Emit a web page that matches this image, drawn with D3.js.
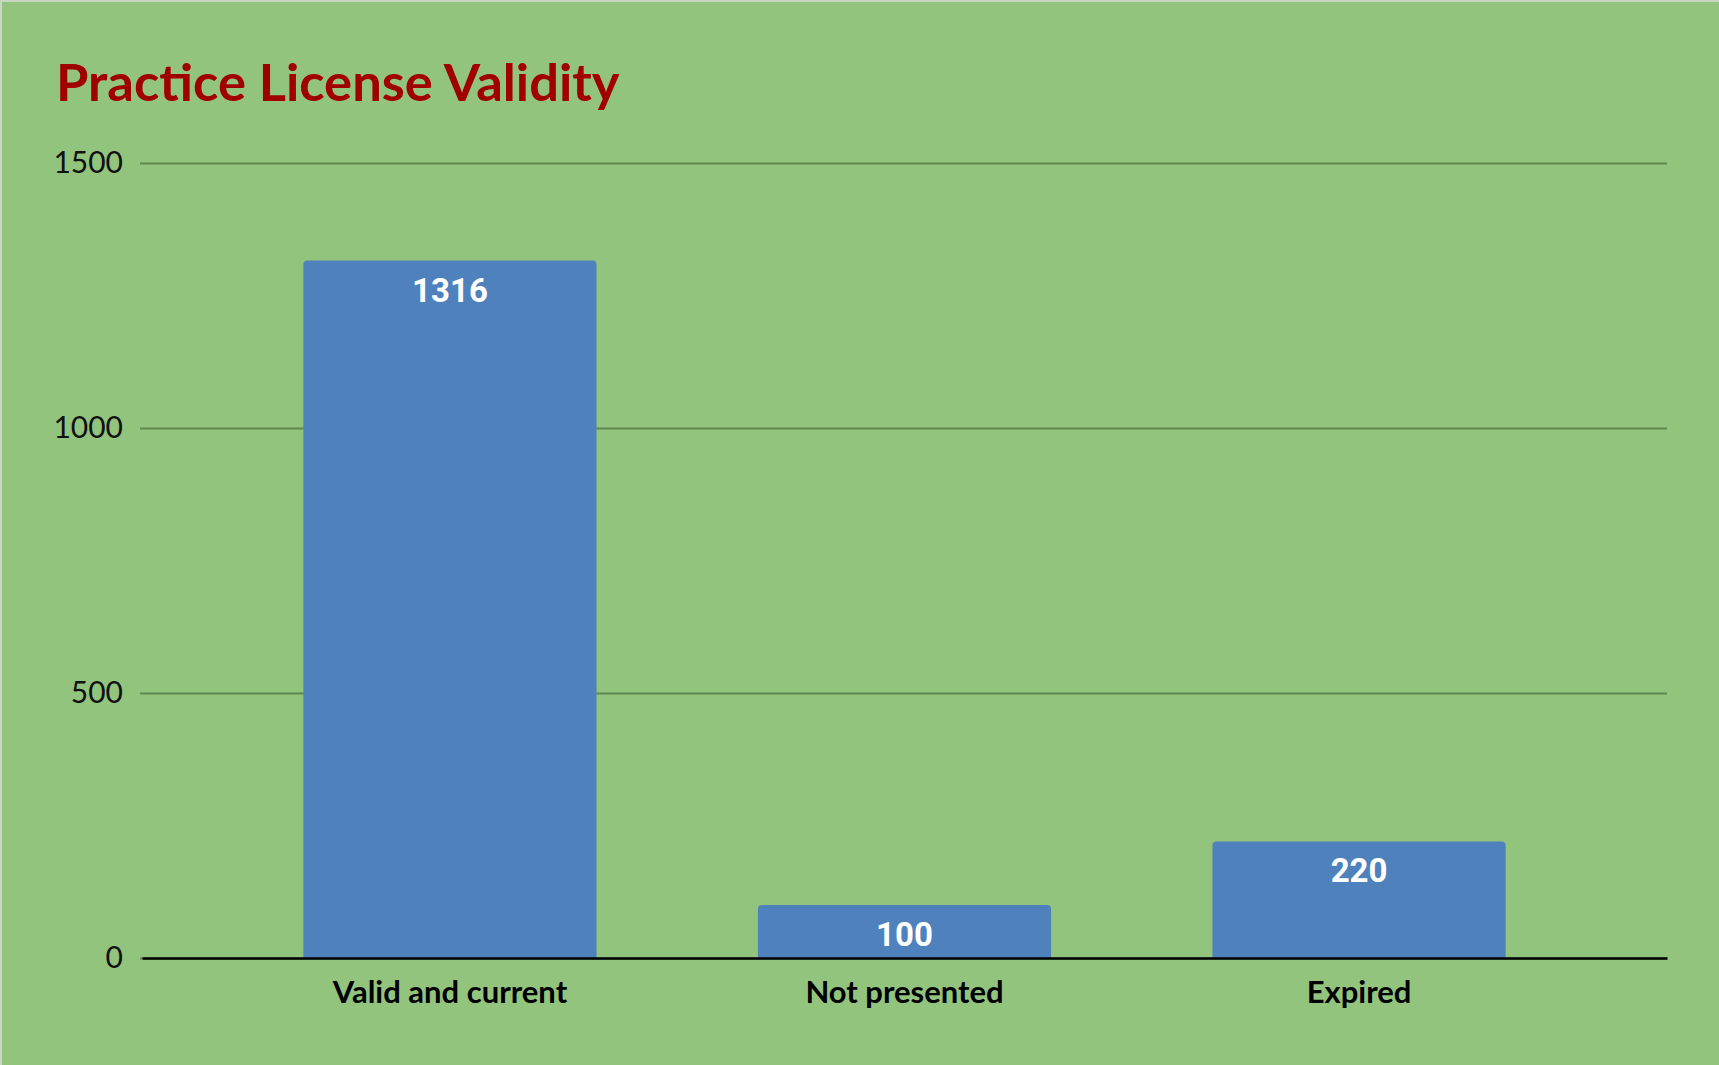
<!DOCTYPE html>
<html>
<head>
<meta charset="utf-8">
<script src="https://cdn.jsdelivr.net/npm/d3@7"></script>
<style>
  html, body { margin: 0; padding: 0; background: #93c47d; }
  svg { display: block; }
</style>
</head>
<body>
<div id="chart"></div>
<script>
// data
var categories = ["Valid and current", "Not presented", "Expired"];
var counts = [1316, 100, 220];
var yTicks = [0, 500, 1000, 1500];
var chartTitle = "Practice License Validity";

var W = 1719, H = 1065;
var margin = { top: 163, right: 52, bottom: 107, left: 140 };

var svg = d3.select("#chart").append("svg")
  .attr("width", W)
  .attr("height", H);

// background + thin frame on top/left
svg.append("rect").attr("width", W).attr("height", H).attr("fill", "#93c47d");
svg.append("line").attr("x1", 0).attr("x2", W).attr("y1", 1).attr("y2", 1)
  .attr("stroke", "#c9d6c3").attr("stroke-width", 2);
svg.append("line").attr("x1", 1).attr("x2", 1).attr("y1", 0).attr("y2", H)
  .attr("stroke", "#c9d6c3").attr("stroke-width", 2);

var x = d3.scaleBand()
  .domain(categories)
  .range([margin.left + 2, W - margin.right])
  .padding(0.355);

var y = d3.scaleLinear()
  .domain([0, 1500])
  .range([H - margin.bottom, margin.top]);

// title
svg.append("text")
  .attr("x", 56)
  .attr("y", 101)
  .attr("fill", "#a00000")
  .style("font-family", "Lato, 'Open Sans', sans-serif")
  .style("font-weight", "bold")
  .style("font-size", "52.5px")
  .text(chartTitle);

// gridlines + tick labels
var yAxis = d3.axisLeft(y)
  .tickValues(yTicks)
  .tickSize(-(W - margin.left - margin.right))
  .tickPadding(17)
  .tickFormat(d3.format("d"));

var gy = svg.append("g")
  .attr("transform", "translate(" + margin.left + ",0)")
  .call(yAxis);
gy.select(".domain").remove();
gy.selectAll(".tick line")
  .attr("stroke", "#5f8750")
  .attr("stroke-width", 2);
gy.selectAll(".tick text")
  .attr("fill", "#111")
  .style("font-family", "Lato, sans-serif")
  .style("font-size", "30px");

// bars with rounded tops
var r = 4;
function barPath(d, i) {
  var x0 = x(categories[i]), x1 = x0 + x.bandwidth();
  var y0 = y(0), y1 = y(d);
  return "M" + x0 + "," + y0 +
    "V" + (y1 + r) +
    "Q" + x0 + "," + y1 + " " + (x0 + r) + "," + y1 +
    "H" + (x1 - r) +
    "Q" + x1 + "," + y1 + " " + x1 + "," + (y1 + r) +
    "V" + y0 + "Z";
}

svg.append("g").selectAll("path")
  .data(counts)
  .enter().append("path")
  .attr("d", barPath)
  .attr("fill", "#4f81bd");

// value labels inside bars
svg.append("g").selectAll("text")
  .data(counts)
  .enter().append("text")
  .attr("x", function(d, i) { return x(categories[i]) + x.bandwidth() / 2; })
  .attr("y", function(d) { return y(d) + 41; })
  .attr("text-anchor", "middle")
  .attr("fill", "#ffffff")
  .style("font-family", "Roboto, sans-serif")
  .style("font-weight", "bold")
  .style("font-size", "33px")
  .text(function(d) { return d; });

// x axis
var xAxis = d3.axisBottom(x).tickSize(0).tickPadding(23);
var gx = svg.append("g")
  .attr("transform", "translate(0," + y(0) + ")")
  .call(xAxis);
gx.select(".domain")
  .attr("stroke", "#000")
  .attr("stroke-width", 2.5);
gx.selectAll(".tick text")
  .attr("fill", "#000")
  .style("font-family", "Lato, sans-serif")
  .style("font-weight", "bold")
  .style("font-size", "31px");
</script>
</body>
</html>
